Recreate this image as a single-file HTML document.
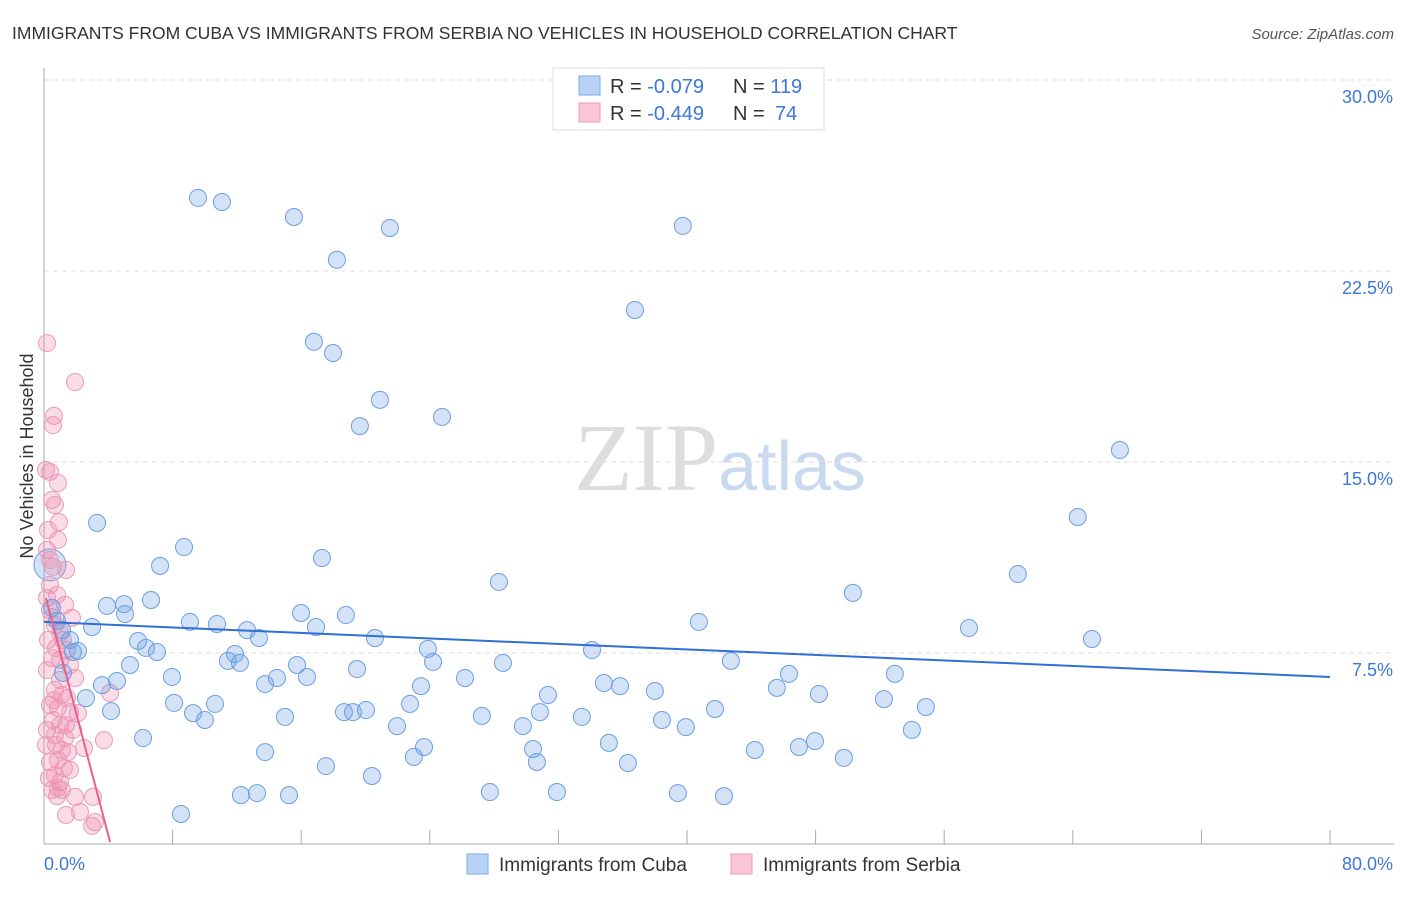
<!DOCTYPE html>
<html><head><meta charset="utf-8"><style>
body{margin:0;background:#fff;font-family:"Liberation Sans",sans-serif}
</style></head><body>
<svg id="c" width="1406" height="892" xmlns="http://www.w3.org/2000/svg">
<text x="12" y="39" font-size="17.5" fill="#333">IMMIGRANTS FROM CUBA VS IMMIGRANTS FROM SERBIA NO VEHICLES IN HOUSEHOLD CORRELATION CHART</text>
<text x="1394" y="39" font-size="15" fill="#555" font-style="italic" text-anchor="end">Source: ZipAtlas.com</text>
<text x="720" y="490" font-size="96" fill="#ddd" text-anchor="middle" font-family="Liberation Serif,serif">ZIP<tspan fill="#c9daf0" font-family="Liberation Sans,sans-serif" font-size="70">atlas</tspan></text>
<g id="grid"></g><g id="axes"></g><g id="pts"></g><g id="lines"></g>
<text transform="translate(33,456) rotate(-90)" font-size="18" fill="#333" text-anchor="middle">No Vehicles in Household</text>
<g>
<rect x="553" y="68" width="271" height="62" fill="#fff" stroke="#ddd"/>
<rect x="579" y="76" width="21" height="19" fill="#b9d3f5" stroke="#7aa8e8"/>
<rect x="579" y="103" width="21" height="19" fill="#f8c6d6" stroke="#ec98b4"/>
<text x="610" y="93" font-size="20" fill="#333">R = <tspan fill="#3b78d8">-0.079</tspan><tspan x="733">N = </tspan><tspan fill="#3b78d8">119</tspan></text>
<text x="610" y="120" font-size="20" fill="#333">R = <tspan fill="#3b78d8">-0.449</tspan><tspan x="733">N = </tspan><tspan fill="#3b78d8" x="775">74</tspan></text>
</g>
<g>
<rect x="467" y="854" width="21" height="20" fill="#b9d3f5" stroke="#7aa8e8"/>
<text x="499" y="871" font-size="19" fill="#333">Immigrants from Cuba</text>
<rect x="731" y="854" width="21" height="20" fill="#f8c6d6" stroke="#ec98b4"/>
<text x="763" y="871" font-size="19" fill="#333">Immigrants from Serbia</text>
</g>
</svg>
<script>
const yTicks=[7.5,15,22.5,30];
const yTickLabels=["7.5%","15.0%","22.5%","30.0%"];
const xTickCount=10;
const xTickLabels=["0.0%","80.0%"];
const cubaX=[9.58,11.07,15.55,21.52,39.74,18.22,36.76,16.79,17.98,20.90,19.65,24.76,66.93,64.31,3.30,8.71,17.29,7.22,60.58,28.30,50.32,3.92,4.98,6.66,5.04,9.08,10.76,15.99,18.78,40.74,57.54,65.19,2.99,12.63,13.37,16.92,20.59,5.85,6.34,7.03,11.88,23.88,34.09,11.44,12.19,15.74,5.35,7.96,13.75,14.49,16.36,19.47,24.20,28.55,42.73,46.34,52.93,3.61,4.54,23.45,26.19,34.83,35.83,38.00,45.59,48.21,52.25,31.35,8.09,10.64,22.77,54.86,4.17,9.27,10.01,14.99,18.66,19.22,20.03,27.24,30.85,33.46,38.44,41.74,21.96,29.79,39.93,53.99,6.16,13.75,23.64,23.01,30.42,30.66,35.14,44.22,46.96,47.96,49.76,17.54,20.40,36.32,12.25,13.25,15.24,27.74,31.91,39.43,42.30,8.52,0.50,0.81,1.12,1.62,1.80,2.11,2.61,1.18];
const cubaY=[25.37,25.21,24.62,24.19,24.27,22.94,20.97,19.72,19.28,17.44,16.41,16.77,15.47,12.84,12.61,11.66,11.23,10.92,10.60,10.29,9.86,9.35,9.42,9.58,9.03,8.72,8.64,9.07,8.99,8.72,8.48,8.05,8.52,8.40,8.09,8.52,8.09,7.97,7.70,7.54,7.46,7.66,7.62,7.19,7.11,7.03,7.03,6.56,6.28,6.52,6.56,6.87,7.15,7.11,7.19,6.68,6.68,6.24,6.40,6.20,6.52,6.32,6.20,6.01,6.13,5.89,5.69,5.85,5.54,5.50,5.50,5.38,5.22,5.14,4.87,4.99,5.18,5.18,5.26,5.03,5.18,4.99,4.87,5.30,4.63,4.63,4.59,4.48,4.16,3.61,3.81,3.42,3.73,3.22,3.97,3.69,3.81,4.04,3.38,3.06,2.67,3.18,1.92,2.00,1.92,2.04,2.04,2.00,1.88,1.18,9.27,8.76,8.40,8.01,7.54,7.58,5.73,6.72];
const bigCubaX=[0.37], bigCubaY=[10.96];
const serbiaX=[0.19,1.93,0.62,0.56,0.12,0.37,0.87,0.50,0.68,0.93,0.87,0.19,0.56,1.37,0.37,0.19,0.37,0.50,0.68,1.00,1.18,0.75,1.43,0.50,1.00,1.62,1.93,0.19,0.68,1.12,1.43,4.11,0.37,0.87,1.62,2.11,0.56,1.00,0.19,0.68,1.31,1.80,0.75,1.12,1.49,0.37,0.87,1.24,0.68,1.00,0.50,0.81,1.12,1.93,3.05,2.24,1.37,3.17,2.99,3.73,0.12,0.37,0.25,0.81,1.31,1.74,1.00,0.62,1.37,0.31,0.87,1.62,2.49,0.25];
const serbiaY=[19.67,18.14,16.81,16.45,14.69,14.61,14.18,13.51,13.31,12.64,11.94,11.55,10.88,10.76,10.17,9.66,9.19,8.91,8.60,8.29,8.01,7.70,7.62,7.30,7.23,7.03,6.52,6.83,6.05,5.85,5.73,5.93,5.46,5.34,5.18,5.14,4.87,4.67,4.48,4.28,4.16,4.48,3.89,3.69,3.61,3.22,3.30,2.98,2.71,2.43,2.12,1.88,2.12,1.85,1.85,1.26,1.14,0.86,0.71,4.08,3.89,11.15,12.33,9.78,9.39,8.88,6.44,5.65,4.67,2.59,2.20,2.91,3.77,8.01];
const cubaTrendX=[0,80], cubaTrendY=[8.72,6.56];
const serbiaTrendX=[0.12,4.11], serbiaTrendY=[9.66,0.08];

const X0=44,X1=1330,Y0=844,YPER=191/7.5;
const sx=v=>X0+(X1-X0)*v/80, sy=v=>Y0-v*YPER;
const NS="http://www.w3.org/2000/svg";
function mk(tag,attrs,parent){const e=document.createElementNS(NS,tag);for(const k in attrs)e.setAttribute(k,attrs[k]);document.getElementById(parent).appendChild(e);return e;}
yTicks.forEach((t,i)=>{
 const g=mk('line',{x1:X0,x2:1394,y1:sy(t),y2:sy(t),stroke:'#ddd','stroke-dasharray':'5,4'},'grid');
 
 
 const l=mk('text',{x:1393,y:sy(t)+23,'font-size':18,fill:'#3b78d8','text-anchor':'end'},'axes');
 l.textContent=yTickLabels[i];
 
 
});
const ax=mk('line',{x1:X0,x2:X0,y1:68,y2:Y0,stroke:'#aaa'},'axes');


const bx=mk('line',{x1:X0,x2:1394,y1:Y0,y2:Y0,stroke:'#aaa'},'axes');


for(let i=0;i<=xTickCount;i++){const x=sx(80*i/xTickCount);
 const t=mk('line',{x1:x,x2:x,y1:Y0-14,y2:Y0,stroke:'#aaa'},'axes');
 
 }
const xl0=mk('text',{x:44,y:870,'font-size':18,fill:'#3b78d8'},'axes');xl0.textContent=xTickLabels[0];


const xl1=mk('text',{x:1393,y:870,'font-size':18,fill:'#3b78d8','text-anchor':'end'},'axes');xl1.textContent=xTickLabels[1];


function pts(xs,ys,r,fill,stroke,name){xs.forEach((v,i)=>{
 const c=mk('circle',{cx:sx(v),cy:sy(ys[i]),r:r,fill:fill,stroke:stroke,'stroke-width':1},'pts');
 
 });}
pts(bigCubaX,bigCubaY,16,'rgba(110,160,230,0.3)','#6a9fe0','cuba-point-large');
pts(serbiaX,serbiaY,8.5,'rgba(240,140,175,0.3)','#eb9ab6','serbia-point');
pts(cubaX,cubaY,8.5,'rgba(110,160,230,0.3)','#6a9fe0','cuba-point');
const tl1=mk('line',{x1:sx(cubaTrendX[0]),y1:sy(cubaTrendY[0]),x2:sx(cubaTrendX[1]),y2:sy(cubaTrendY[1]),stroke:'#2f6fd6','stroke-width':2},'lines');


const tl2=mk('line',{x1:sx(serbiaTrendX[0]),y1:sy(serbiaTrendY[0]),x2:sx(serbiaTrendX[1]),y2:sy(serbiaTrendY[1]),stroke:'#e8608e','stroke-width':2},'lines');


</script>
</body></html>
